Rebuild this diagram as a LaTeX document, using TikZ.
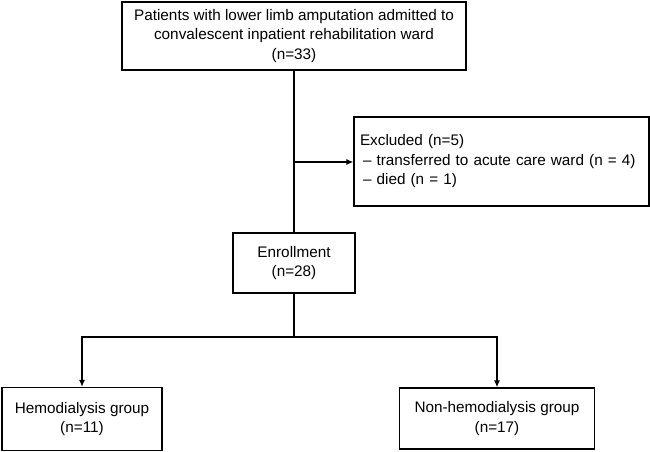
\documentclass[tikz,border=0pt]{standalone}
\usepackage{fontspec}
\setmainfont{Liberation Sans}
\usepackage{tikz}
\usetikzlibrary{arrows.meta}
\tikzstyle{box}=[draw,rectangle,line width=1.3pt,inner sep=0pt,align=center,font=\fontsize{15.3}{19.5}\selectfont]
\tikzstyle{link}=[line width=1.3pt]

\begin{document}
\begin{tikzpicture}[x=1pt,y=-1pt]
      \useasboundingbox (0,0) rectangle (650,452);
      \node[box,minimum width=344,minimum height=68] (patients) at (294,36) {Patients with lower limb amputation admitted to\\convalescent inpatient rehabilitation ward\\(n=33)};
      \node[box,minimum width=295,minimum height=89,text width=283,align=left] (excluded) at (501.5,161.5) {Excluded (n=5)\\\hspace{3pt}-- transferred to acute care ward (n = 4)\\\hspace{3pt}-- died (n = 1)};
      \node[box,minimum width=122,minimum height=60] (enroll) at (294,263) {Enrollment\\(n=28)};
      \node[box,minimum width=160,minimum height=63] (hemo) at (82,419) {Hemodialysis group\\(n=11)};
      \node[box,minimum width=195,minimum height=61] (nonhemo) at (497,418.5) {Non-hemodialysis group\\(n=17)};
      \coordinate (branch) at (294,162);
      \coordinate (split) at (294,337);
      \draw[link] (patients) -- (enroll);
      \draw[link,-{Latex[length=7pt,width=6pt]}] (branch) -- (excluded.west |- branch);
      \draw[link] (enroll) -- (split);
      \draw[link,-{Latex[length=7pt,width=6pt]}] (split) -| (hemo);
      \draw[link,-{Latex[length=7pt,width=6pt]}] (split) -| (nonhemo);
    \end{tikzpicture}
\end{document}
